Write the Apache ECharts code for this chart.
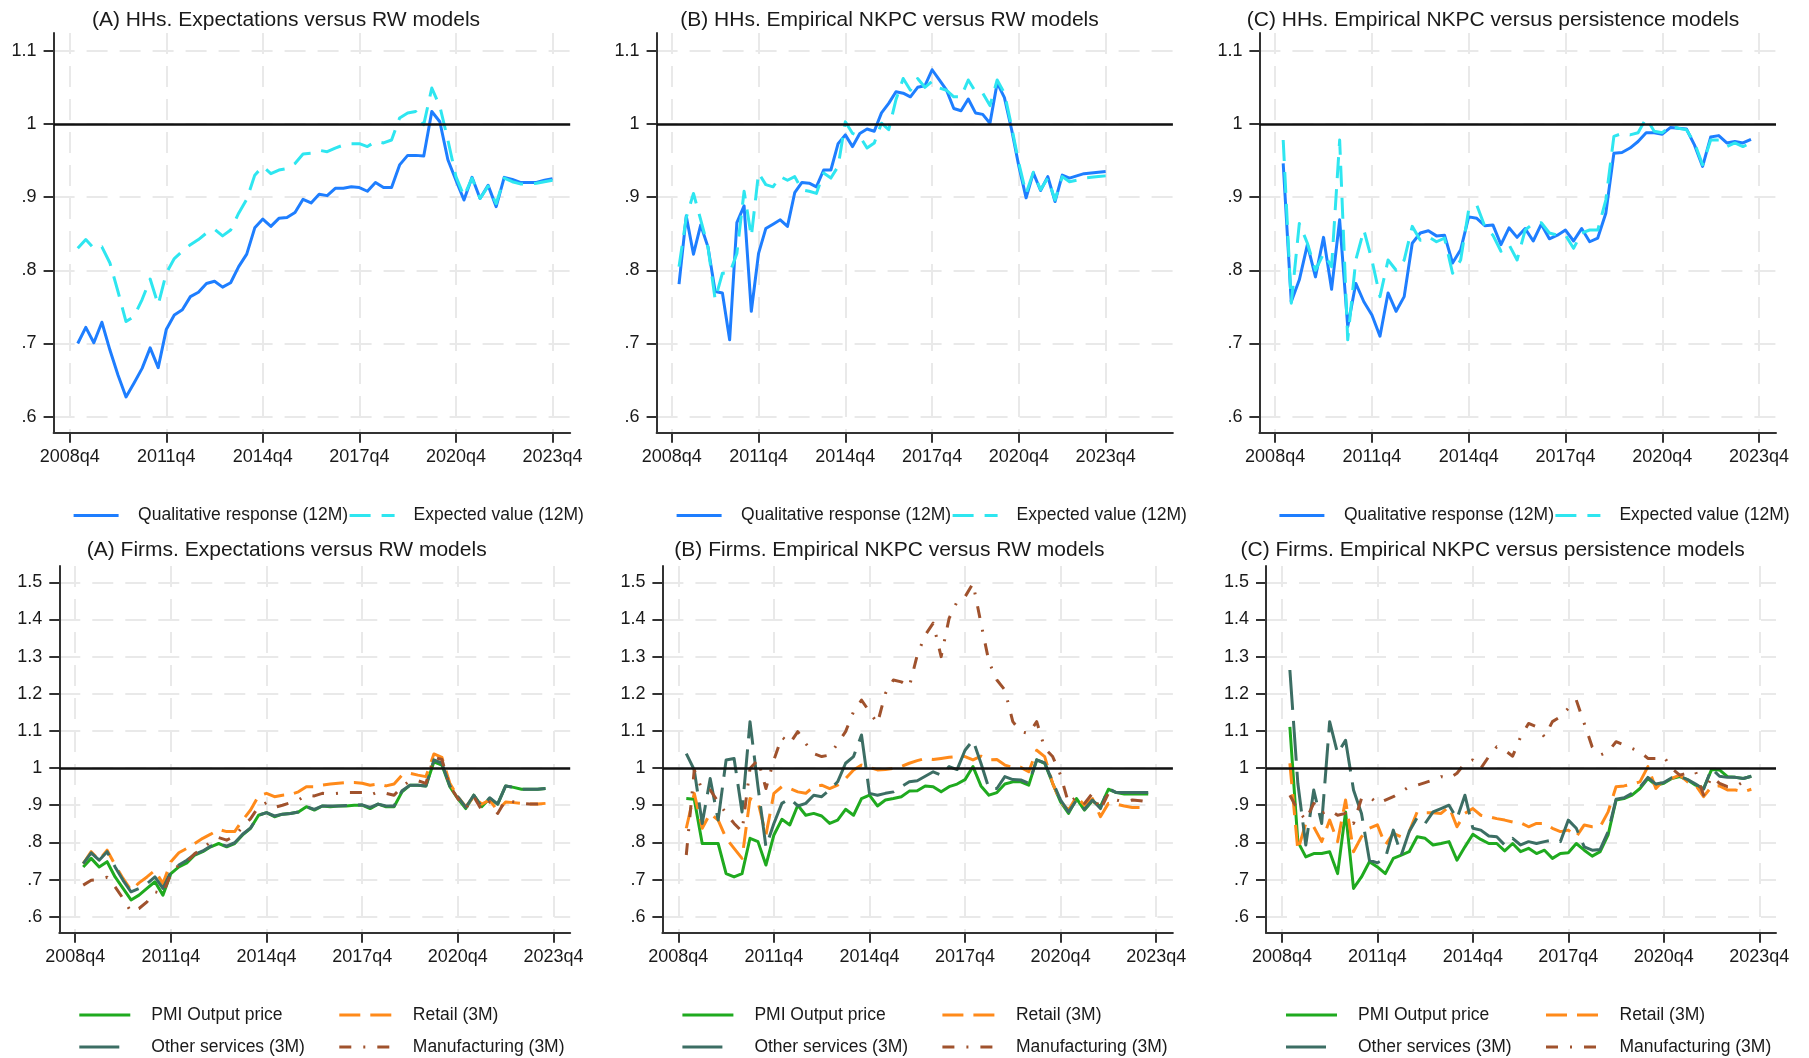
<!DOCTYPE html>
<html>
<head>
<meta charset="utf-8">
<script src="https://cdn.jsdelivr.net/npm/echarts@6/dist/echarts.min.js"></script>
<style>
  html, body { margin: 0; padding: 0; background: #ffffff; }
  #chart { width: 1809px; height: 1058px; }
</style>
</head>
<body>
<div id="chart"></div>
<script>
// x values are quarters counted from 2008q4 (1 = 2009q1, 60 = 2023q4)
const xTickValues = [0, 12, 24, 36, 48, 60];
const xTickLabels = ['2008q4', '2011q4', '2014q4', '2017q4', '2020q4', '2023q4'];
const hhTicks = [0.6, 0.7, 0.8, 0.9, 1.0, 1.1];
const firmTicks = [0.6, 0.7, 0.8, 0.9, 1.0, 1.1, 1.2, 1.3, 1.4, 1.5];

// Households: relative forecast accuracy, 2009q1 onwards
const hhExpQualitative = [0.700,0.722,0.701,0.729,0.691,0.657,0.627,0.646,0.666,0.694,
  0.667,0.719,0.739,0.746,0.764,0.770,0.782,0.785,0.777,0.783,
  0.805,0.822,0.858,0.870,0.860,0.871,0.872,0.879,0.897,0.892,
  0.904,0.902,0.912,0.912,0.914,0.913,0.908,0.920,0.913,0.913,
  0.944,0.957,0.957,0.956,1.017,1.003,0.951,0.923,0.896,0.927,
  0.898,0.916,0.887,0.927,0.924,0.920,0.920,0.920,0.923,0.925];
const hhExpExpected = [0.830,0.842,0.830,0.832,0.810,0.771,0.730,0.737,0.760,0.788,
  0.753,0.796,0.816,0.826,0.835,0.842,0.851,0.856,0.847,0.855,
  0.878,0.897,0.930,0.942,0.932,0.937,0.939,0.946,0.959,0.960,
  0.964,0.962,0.967,0.971,0.973,0.973,0.969,0.976,0.974,0.978,
  1.008,1.015,1.017,0.999,1.049,1.024,0.978,0.928,0.901,0.926,
  0.898,0.915,0.891,0.926,0.921,0.918,0.918,0.919,0.921,0.923];

const hhRwQualitative = [0.781,0.874,0.822,0.862,0.832,0.771,0.769,0.705,0.865,0.888,
  0.744,0.823,0.857,0.863,0.869,0.860,0.906,0.920,0.919,0.914,
  0.937,0.937,0.973,0.985,0.969,0.987,0.993,0.990,1.015,1.028,
  1.044,1.042,1.037,1.050,1.052,1.074,1.060,1.046,1.021,1.018,
  1.034,1.015,1.013,1.001,1.056,1.036,0.992,0.942,0.899,0.933,
  0.909,0.928,0.894,0.930,0.926,0.929,0.932,0.933,0.934,0.935];
const hhRwExpected = [0.805,0.872,0.905,0.869,0.832,0.760,0.796,0.796,0.823,0.908,
  0.846,0.933,0.917,0.914,0.928,0.923,0.928,0.910,0.908,0.905,
  0.933,0.926,0.942,1.003,0.987,0.983,0.967,0.974,1.001,0.992,
  1.033,1.062,1.046,1.062,1.050,1.058,1.049,1.046,1.037,1.037,
  1.060,1.044,1.042,1.025,1.060,1.042,0.996,0.946,0.905,0.934,
  0.910,0.926,0.896,0.928,0.921,0.923,0.926,0.927,0.928,0.929];

const hhPersQualitative = [0.946,0.757,0.787,0.835,0.791,0.845,0.774,0.869,0.723,0.782,
  0.757,0.739,0.710,0.769,0.744,0.764,0.837,0.851,0.854,0.847,
  0.848,0.810,0.828,0.873,0.871,0.861,0.862,0.835,0.858,0.845,
  0.857,0.840,0.863,0.843,0.848,0.855,0.840,0.857,0.839,0.844,
  0.878,0.960,0.961,0.967,0.976,0.988,0.988,0.986,0.995,0.994,
  0.993,0.971,0.942,0.982,0.984,0.974,0.976,0.974,0.979];
const hhPersExpected = [0.978,0.755,0.864,0.837,0.800,0.823,0.805,0.978,0.705,0.814,
  0.855,0.814,0.764,0.814,0.800,0.814,0.860,0.841,0.846,0.839,
  0.844,0.796,0.814,0.883,0.889,0.860,0.848,0.826,0.835,0.814,
  0.855,0.864,0.865,0.851,0.848,0.848,0.830,0.851,0.855,0.855,
  0.896,0.983,0.987,0.985,0.988,1.008,0.990,0.988,0.997,0.994,
  0.992,0.974,0.944,0.978,0.978,0.969,0.974,0.969,0.974];

// Firms
const firmExpPmi = [0.734,0.757,0.734,0.748,0.707,0.676,0.645,0.658,0.676,0.694,
  0.658,0.716,0.734,0.745,0.766,0.775,0.788,0.797,0.788,0.797,
  0.820,0.838,0.873,0.880,0.869,0.876,0.878,0.882,0.896,0.887,
  0.898,0.896,0.898,0.898,0.900,0.900,0.891,0.903,0.896,0.896,
  0.936,0.954,0.954,0.952,1.017,1.008,0.950,0.918,0.891,0.927,
  0.896,0.918,0.903,0.952,0.948,0.943,0.943,0.943,0.945];
const firmExpRetail = [0.743,0.775,0.752,0.779,0.739,0.703,0.671,0.691,0.707,0.725,
  0.689,0.748,0.772,0.784,0.797,0.811,0.822,0.835,0.829,0.829,
  0.860,0.887,0.925,0.932,0.923,0.927,0.929,0.936,0.950,0.950,
  0.954,0.957,0.959,0.961,0.961,0.959,0.954,0.957,0.952,0.957,
  0.981,0.986,0.981,0.977,1.038,1.029,0.959,0.923,0.896,0.923,
  0.903,0.914,0.885,0.909,0.907,0.905,0.903,0.903,0.905];
const firmExpServices = [0.743,0.772,0.752,0.775,0.734,0.698,0.667,0.676,0.689,0.707,
  0.676,0.721,0.739,0.752,0.768,0.777,0.790,0.797,0.790,0.799,
  0.822,0.839,0.873,0.880,0.871,0.876,0.878,0.882,0.896,0.889,
  0.898,0.898,0.898,0.899,0.900,0.901,0.894,0.903,0.898,0.898,
  0.939,0.954,0.954,0.952,1.022,1.013,0.952,0.923,0.894,0.927,
  0.896,0.920,0.903,0.952,0.948,0.943,0.943,0.943,0.945];
const firmExpManufacturing = [0.685,0.698,0.700,0.706,0.680,0.649,0.613,0.622,0.640,0.667,
  0.662,0.716,0.739,0.748,0.770,0.784,0.802,0.813,0.806,0.817,
  0.842,0.864,0.896,0.907,0.894,0.900,0.907,0.914,0.927,0.925,
  0.932,0.930,0.932,0.934,0.934,0.934,0.927,0.936,0.932,0.927,
  0.950,0.966,0.966,0.959,1.029,1.023,0.952,0.918,0.891,0.923,
  0.887,0.909,0.878,0.914,0.909,0.905,0.903,0.903,0.905];

const firmRwPmi = [0.918,0.916,0.797,0.797,0.797,0.716,0.707,0.716,0.811,0.802,
  0.739,0.820,0.862,0.847,0.900,0.873,0.878,0.871,0.851,0.860,
  0.889,0.873,0.918,0.927,0.898,0.914,0.918,0.923,0.938,0.939,
  0.952,0.950,0.936,0.950,0.957,0.969,1.004,0.952,0.927,0.934,
  0.957,0.963,0.963,0.954,1.022,1.013,0.959,0.909,0.878,0.918,
  0.887,0.912,0.896,0.943,0.934,0.930,0.930,0.930,0.930];
const firmRwRetail = [0.838,0.932,0.838,0.878,0.860,0.811,0.784,0.757,0.918,0.909,
  0.820,0.932,0.950,0.945,0.936,0.932,0.950,0.954,0.945,0.954,
  0.972,0.995,1.008,1.002,0.995,0.996,0.999,1.004,1.013,1.020,
  1.026,1.023,1.026,1.029,1.031,1.031,1.022,1.032,1.022,1.023,
  1.008,1.002,1.002,0.990,1.048,1.031,0.959,0.909,0.887,0.923,
  0.900,0.918,0.869,0.905,0.903,0.898,0.894,0.894,0.900];
const firmRwServices = [1.039,0.995,0.851,0.972,0.860,1.022,1.026,0.882,1.125,0.950,
  0.788,0.851,0.905,0.918,0.898,0.905,0.927,0.923,0.941,0.963,
  1.013,1.031,1.089,0.932,0.927,0.932,0.936,0.950,0.963,0.966,
  0.978,0.990,0.981,1.004,0.996,1.048,1.075,1.013,0.945,0.945,
  0.977,0.969,0.968,0.959,1.022,1.014,0.963,0.914,0.882,0.914,
  0.889,0.914,0.891,0.945,0.934,0.934,0.934,0.934,0.934];
const firmRwManufacturing = [0.766,0.995,0.941,0.941,0.909,0.878,0.851,0.829,0.999,1.022,
  0.945,1.022,1.084,1.066,1.098,1.066,1.039,1.031,1.035,1.066,
  1.098,1.152,1.183,1.152,1.120,1.201,1.237,1.232,1.219,1.304,
  1.358,1.390,1.300,1.403,1.448,1.461,1.497,1.390,1.286,1.237,
  1.210,1.125,1.098,1.093,1.125,1.053,1.031,0.981,0.905,0.923,
  0.905,0.932,0.887,0.932,0.914,0.909,0.914,0.912,0.909];

const firmPersPmi = [1.111,0.802,0.761,0.770,0.770,0.775,0.716,0.882,0.676,0.707,
  0.748,0.734,0.716,0.757,0.766,0.775,0.815,0.811,0.793,0.797,
  0.802,0.752,0.788,0.822,0.808,0.797,0.797,0.777,0.797,0.775,
  0.784,0.770,0.779,0.757,0.770,0.772,0.797,0.779,0.763,0.775,
  0.820,0.914,0.918,0.927,0.945,0.972,0.954,0.959,0.972,0.977,
  0.968,0.954,0.945,0.996,0.995,0.977,0.975,0.972,0.978];
const firmPersRetail = [1.013,0.779,0.851,0.842,0.802,0.860,0.802,0.914,0.775,0.815,
  0.838,0.847,0.793,0.824,0.815,0.829,0.882,0.880,0.880,0.878,
  0.896,0.842,0.878,0.891,0.873,0.869,0.864,0.860,0.855,0.853,
  0.842,0.851,0.851,0.838,0.829,0.833,0.815,0.847,0.842,0.842,
  0.882,0.950,0.952,0.957,0.963,1.004,0.945,0.968,0.972,0.981,
  0.963,0.954,0.923,0.950,0.952,0.941,0.941,0.936,0.943];
const firmPersServices = [1.264,0.959,0.793,0.941,0.851,1.125,1.039,1.075,0.941,0.878,
  0.752,0.745,0.757,0.833,0.766,0.829,0.867,0.851,0.882,0.891,
  0.900,0.864,0.927,0.838,0.833,0.817,0.815,0.793,0.811,0.793,
  0.802,0.797,0.802,0.806,0.802,0.860,0.838,0.788,0.779,0.781,
  0.829,0.916,0.920,0.932,0.948,0.975,0.957,0.961,0.974,0.978,
  0.969,0.957,0.943,0.999,0.978,0.975,0.975,0.972,0.978];
const firmPersManufacturing = [0.927,0.887,0.860,0.905,0.878,0.887,0.873,0.878,0.851,0.918,
  0.923,0.905,0.914,0.923,0.936,0.950,0.954,0.961,0.968,0.977,
  0.972,0.986,1.013,1.022,0.999,1.031,1.057,1.048,1.032,1.084,
  1.120,1.111,1.084,1.125,1.138,1.161,1.183,1.120,1.057,1.035,
  1.044,1.071,1.062,1.053,1.044,1.026,1.026,1.031,0.999,0.981,
  0.986,0.990,0.927,0.977,0.959,0.950,0.950,0.963,0.959];

const FONT = '"Liberation Sans", Arial, Helvetica, sans-serif';
const TEXT = '#1a1a1a';
const AXIS = '#333333';

const STYLES = {
  'Qualitative response (12M)': { color: '#1E7EFF', type: 'solid' },
  'Expected value (12M)':       { color: '#2EE6F0', type: [21, 11] },
  'PMI Output price':           { color: '#1FAA1F', type: 'solid' },
  'Retail (3M)':                { color: '#FF8A1A', type: [21, 10] },
  'Other services (3M)':        { color: '#3C6E64', type: [40, 11] },
  'Manufacturing (3M)':         { color: '#A0522D', type: [12, 12, 2, 12] }
};

const hhLayoutTop = 33, hhLayoutHeight = 399.7;
const firmLayoutTop = 566, firmLayoutHeight = 366.7;

const panels = [
  { title: '(A) HHs. Expectations versus RW models', titleX: 286, titleY: 20,
    left: 53.6, width: 516.6, xMin: -2.0, xMax: 62.2, kind: 'hh',
    series: [['Qualitative response (12M)', hhExpQualitative], ['Expected value (12M)', hhExpExpected]] },
  { title: '(B) HHs. Empirical NKPC versus RW models', titleX: 889.5, titleY: 20,
    left: 656.6, width: 516.3, xMin: -2.1, xMax: 69.3, kind: 'hh',
    series: [['Qualitative response (12M)', hhRwQualitative], ['Expected value (12M)', hhRwExpected]] },
  { title: '(C) HHs. Empirical NKPC versus persistence models', titleX: 1493, titleY: 20,
    left: 1259.4, width: 516.6, xMin: -1.95, xMax: 62.1, kind: 'hh',
    series: [['Qualitative response (12M)', hhPersQualitative], ['Expected value (12M)', hhPersExpected]] },
  { title: '(A) Firms. Expectations versus RW models', titleX: 286.7, titleY: 550.7,
    left: 59.3, width: 510.9, xMin: -2.0, xMax: 62.1, kind: 'firm',
    series: [['PMI Output price', firmExpPmi], ['Retail (3M)', firmExpRetail],
             ['Other services (3M)', firmExpServices], ['Manufacturing (3M)', firmExpManufacturing]] },
  { title: '(B) Firms. Empirical NKPC versus RW models', titleX: 889.4, titleY: 550.7,
    left: 662.4, width: 510.5, xMin: -2.0, xMax: 62.1, kind: 'firm',
    series: [['PMI Output price', firmRwPmi], ['Retail (3M)', firmRwRetail],
             ['Other services (3M)', firmRwServices], ['Manufacturing (3M)', firmRwManufacturing]] },
  { title: '(C) Firms. Empirical NKPC versus persistence models', titleX: 1492.6, titleY: 550.7,
    left: 1266, width: 510, xMin: -2.0, xMax: 62.1, kind: 'firm',
    series: [['PMI Output price', firmPersPmi], ['Retail (3M)', firmPersRetail],
             ['Other services (3M)', firmPersServices], ['Manufacturing (3M)', firmPersManufacturing]] }
];

function yLabel(v) {
  const r = Math.round(v * 10) / 10;
  const s = String(r);
  return s.charAt(0) === '0' ? s.slice(1) : s;
}
function xLabel(v) {
  const i = xTickValues.indexOf(Math.round(v));
  return i >= 0 ? xTickLabels[i] : '';
}
function toPoints(values) {
  return values.map((v, i) => [i + 1, v]);
}

const grids = [], xAxes = [], yAxes = [], series = [], graphics = [];
const gridLine = { color: '#e9e9e9', width: 2, type: [21, 12] };

panels.forEach((p, k) => {
  const isHH = p.kind === 'hh';
  const top = isHH ? hhLayoutTop : firmLayoutTop;
  const height = isHH ? hhLayoutHeight : firmLayoutHeight;
  const yTicks = isHH ? hhTicks : firmTicks;
  grids.push({ left: p.left, top: top, width: p.width, height: height });

  xAxes.push({
    type: 'value', gridIndex: k, min: p.xMin, max: p.xMax,
    axisLine: { show: true, onZero: false, lineStyle: { color: AXIS, width: 2 } },
    axisTick: { show: true, customValues: xTickValues, length: 10, lineStyle: { color: AXIS, width: 2 } },
    axisLabel: { customValues: xTickValues, formatter: xLabel, fontSize: 18, fontFamily: FONT, color: TEXT, margin: 15 },
    splitLine: { show: true, lineStyle: gridLine }
  });
  yAxes.push({
    type: 'value', gridIndex: k,
    min: isHH ? 0.5781 : 0.5569, max: isHH ? 1.1242 : 1.5439,
    axisLine: { show: true, onZero: false, lineStyle: { color: AXIS, width: 2 } },
    axisTick: { show: true, customValues: yTicks, length: 10, lineStyle: { color: AXIS, width: 2 } },
    axisLabel: { customValues: yTicks, formatter: yLabel, fontSize: 18, fontFamily: FONT, color: TEXT, margin: 17 },
    splitLine: { show: true, lineStyle: gridLine }
  });

  // reference line at 1
  series.push({
    type: 'line', xAxisIndex: k, yAxisIndex: k, data: [], silent: true,
    markLine: {
      silent: true, symbol: 'none', label: { show: false },
      lineStyle: { color: '#111111', width: 2.5, type: 'solid' },
      emphasis: { disabled: true },
      data: [{ yAxis: 1 }]
    }
  });

  p.series.forEach(([name, values]) => {
    const st = STYLES[name];
    series.push({
      name: name, type: 'line', xAxisIndex: k, yAxisIndex: k,
      data: toPoints(values), showSymbol: false, symbol: 'none', silent: true,
      lineStyle: { color: st.color, width: 3, type: st.type, cap: 'butt', join: 'round' },
      itemStyle: { color: st.color },
      emphasis: { disabled: true }
    });
  });

  // panel title
  graphics.push({
    type: 'text', x: p.titleX, y: p.titleY, silent: true,
    style: { text: p.title, font: '21px ' + FONT, fill: TEXT, align: 'center', verticalAlign: 'middle' }
  });

  // legend keys
  const L = p.left;
  const keys = isHH
    ? [[p.series[0][0], L + 20, L + 65, L + 84.5, 515.5], [p.series[1][0], L + 296, L + 341, L + 360, 515.5]]
    : [[p.series[0][0], L + 20, L + 71, L + 92, 1015], [p.series[1][0], L + 280, L + 333, L + 353.5, 1015],
       [p.series[2][0], L + 20, L + 71, L + 92, 1047], [p.series[3][0], L + 280, L + 333, L + 353.5, 1047]];
  keys.forEach(([name, x1, x2, tx, y]) => {
    const st = STYLES[name];
    graphics.push({
      type: 'line', silent: true,
      shape: { x1: x1, y1: y, x2: x2, y2: y },
      style: { stroke: st.color, lineWidth: 3, lineDash: st.type === 'solid' ? null : st.type, lineCap: 'butt' }
    });
    graphics.push({
      type: 'text', x: tx, y: y, silent: true,
      style: { text: name, font: '17.5px ' + FONT, fill: TEXT, align: 'left', verticalAlign: 'middle' }
    });
  });
});

const chart = echarts.init(document.getElementById('chart'), null, { renderer: 'canvas' });
chart.setOption({
  backgroundColor: '#ffffff',
  animation: false,
  grid: grids,
  xAxis: xAxes,
  yAxis: yAxes,
  series: series,
  graphic: graphics
});
</script>
</body>
</html>
